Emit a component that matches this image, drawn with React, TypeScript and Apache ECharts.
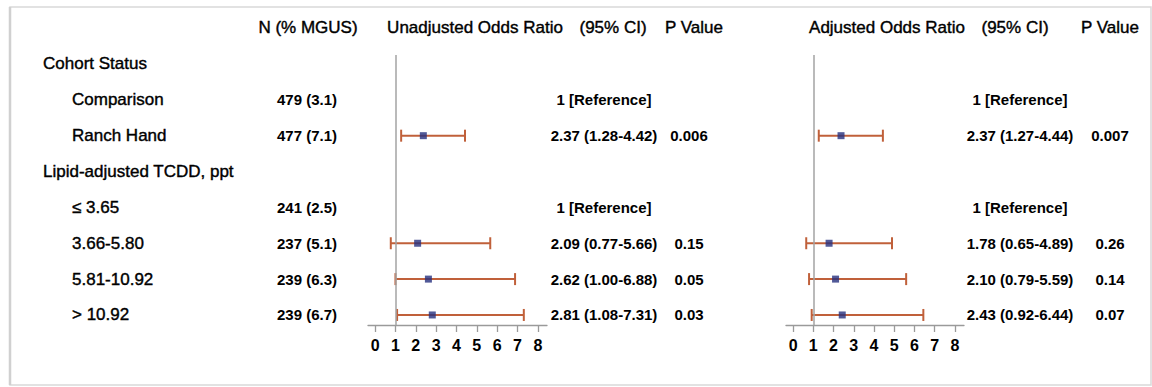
import React, { useEffect, useRef } from "react";
import * as echarts from "echarts";

// ---------- data ----------
const ROW_LABELS = [
  "Cohort Status",
  "Comparison",
  "Ranch Hand",
  "Lipid-adjusted TCDD, ppt",
  "≤ 3.65",
  "3.66-5.80",
  "5.81-10.92",
  "> 10.92",
];
const ROW_LEVEL = [0, 1, 1, 0, 1, 1, 1, 1];
const N_MGUS = ["", "479 (3.1)", "477 (7.1)", "", "241 (2.5)", "237 (5.1)", "239 (6.3)", "239 (6.7)"];
const REFERENCE_ROWS = [1, 4];

const UNADJ_OR = [null, null, 2.37, null, null, 2.09, 2.62, 2.81];
const UNADJ_LO = [null, null, 1.28, null, null, 0.77, 1.0, 1.08];
const UNADJ_HI = [null, null, 4.42, null, null, 5.66, 6.88, 7.31];
const UNADJ_P = ["", "", "0.006", "", "", "0.15", "0.05", "0.03"];

const ADJ_OR = [null, null, 2.37, null, null, 1.78, 2.1, 2.43];
const ADJ_LO = [null, null, 1.27, null, null, 0.65, 0.79, 0.92];
const ADJ_HI = [null, null, 4.44, null, null, 4.89, 5.59, 6.44];
const ADJ_P = ["", "", "0.007", "", "", "0.26", "0.14", "0.07"];

const TICKS = [0, 1, 2, 3, 4, 5, 6, 7, 8];

const HEADERS = [
  { text: "N (% MGUS)", x: 308 },
  { text: "Unadjusted Odds Ratio", x: 475 },
  { text: "(95% CI)", x: 613 },
  { text: "P Value", x: 694 },
  { text: "Adjusted Odds Ratio", x: 887 },
  { text: "(95% CI)", x: 1015 },
  { text: "P Value", x: 1110 },
];

// ---------- layout ----------
const FONT = 'Arial, "Liberation Sans", sans-serif';
const TEXT_COLOR = "#000000";
const BAR_COLOR = "#c0603a";
const MARK_COLOR = "#26307e";
const ROW_MIN = -0.25;
const ROW_MAX = 7.28;
const GRID_TOP = 55;
const GRID_H = 270;

function orText(i: number, or: (number | null)[], lo: (number | null)[], hi: (number | null)[]) {
  if (REFERENCE_ROWS.includes(i)) return "1 [Reference]";
  const v = or[i];
  if (v == null) return "";
  return `${v.toFixed(2)} (${(lo[i] as number).toFixed(2)}-${(hi[i] as number).toFixed(2)})`;
}

function textSeries(
  texts: string[],
  colX: number | ((i: number) => number),
  align: string,
  font: string,
  strokeW: number
) {
  const items: number[][] = [];
  const txt: string[] = [];
  texts.forEach((t, i) => {
    if (!t) return;
    items.push([typeof colX === "function" ? colX(i) : colX, i]);
    txt.push(t);
  });
  return {
    type: "custom",
    xAxisIndex: 0,
    yAxisIndex: 0,
    silent: true,
    data: items,
    renderItem: (params: any, api: any) => {
      const p = api.coord([api.value(0), api.value(1)]);
      return {
        type: "text",
        x: p[0],
        y: p[1],
        style: {
          text: txt[params.dataIndex],
          fill: TEXT_COLOR,
          stroke: strokeW > 0 ? TEXT_COLOR : undefined,
          lineWidth: strokeW,
          font,
          align,
          verticalAlign: "middle",
        },
      };
    },
  };
}

function ciSeries(axis: number, or: (number | null)[], lo: (number | null)[], hi: (number | null)[]) {
  const bars: number[][] = [];
  const pts: number[][] = [];
  or.forEach((v, i) => {
    if (v == null) return;
    bars.push([i, lo[i] as number, hi[i] as number]);
    pts.push([v, i]);
  });
  return [
    {
      type: "custom",
      xAxisIndex: axis,
      yAxisIndex: axis,
      silent: true,
      z: 3,
      data: bars,
      renderItem: (_params: any, api: any) => {
        const y = api.value(0);
        const a = api.coord([api.value(1), y]);
        const b = api.coord([api.value(2), y]);
        const h = 6;
        const st = { stroke: BAR_COLOR, lineWidth: 2 };
        return {
          type: "group",
          children: [
            { type: "line", shape: { x1: a[0], y1: a[1], x2: b[0], y2: b[1] }, style: st },
            { type: "line", shape: { x1: a[0], y1: a[1] - h, x2: a[0], y2: a[1] + h }, style: st },
            { type: "line", shape: { x1: b[0], y1: b[1] - h, x2: b[0], y2: b[1] + h }, style: st },
          ],
        };
      },
    },
    {
      type: "scatter",
      xAxisIndex: axis,
      yAxisIndex: axis,
      silent: true,
      z: 4,
      symbol: "rect",
      symbolSize: 7,
      itemStyle: { color: MARK_COLOR },
      data: pts,
      markLine: {
        silent: true,
        symbol: "none",
        label: { show: false },
        lineStyle: { color: "#a3a3a3", width: 1.5, type: "solid" },
        data: [{ xAxis: 1 }],
      },
    },
  ];
}

function plotXAxis(grid: number) {
  return {
    type: "value",
    gridIndex: grid,
    position: "bottom",
    min: -0.35,
    max: 8.45,
    splitLine: { show: false },
    axisLine: { show: true, onZero: false, lineStyle: { color: "#9a9a9a", width: 1.3 } },
    axisTick: { show: true, customValues: TICKS, length: 7, lineStyle: { color: "#9a9a9a", width: 1.3 } },
    axisLabel: {
      show: true,
      customValues: TICKS,
      margin: 12,
      color: TEXT_COLOR,
      fontSize: 16,
      fontWeight: "bold",
      fontFamily: FONT,
    },
  };
}

function plotYAxis(grid: number) {
  return { type: "value", gridIndex: grid, min: ROW_MIN, max: ROW_MAX, inverse: true, show: false };
}

export default function App() {
  const ref = useRef<HTMLDivElement>(null);
  useEffect(() => {
    if (!ref.current) return;
    const chart = echarts.init(ref.current, null, { renderer: "svg" });
    const bold = `bold 15px ${FONT}`;
    const normal = `17px ${FONT}`;
    const option: any = {
      animation: false,
      backgroundColor: "#ffffff",
      grid: [
        { left: 0, width: 1152, top: GRID_TOP, height: GRID_H },
        { left: 368, width: 179, top: GRID_TOP, height: GRID_H },
        { left: 786, width: 178, top: GRID_TOP, height: GRID_H },
      ],
      xAxis: [
        { type: "value", gridIndex: 0, min: 0, max: 1152, show: false },
        plotXAxis(1),
        plotXAxis(2),
      ],
      yAxis: [plotYAxis(0), plotYAxis(1), plotYAxis(2)],
      graphic: [
        {
          type: "rect",
          shape: { x: 10, y: 7, width: 1141, height: 378 },
          style: { fill: "none", stroke: "#d9d9d9", lineWidth: 1.5 },
          silent: true,
        },
        {
          type: "line",
          shape: { x1: 10, y1: 7, x2: 10, y2: 385 },
          style: { stroke: "#d0d0d0", lineWidth: 2.5 },
          silent: true,
        },
        ...HEADERS.map((h) => ({
          type: "text",
          x: h.x,
          y: 27,
          silent: true,
          style: {
            text: h.text,
            fill: TEXT_COLOR,
            stroke: TEXT_COLOR,
            lineWidth: 0.4,
            font: normal,
            align: "center",
            verticalAlign: "middle",
          },
        })),
      ],
      series: [
        textSeries(ROW_LABELS, (i) => (ROW_LEVEL[i] === 0 ? 43 : 72), "left", normal, 0.4),
        textSeries(N_MGUS, 307, "center", bold, 0),
        textSeries(ROW_LABELS.map((_, i) => orText(i, UNADJ_OR, UNADJ_LO, UNADJ_HI)), 604, "center", bold, 0),
        textSeries(UNADJ_P, 689, "center", bold, 0),
        textSeries(ROW_LABELS.map((_, i) => orText(i, ADJ_OR, ADJ_LO, ADJ_HI)), 1020, "center", bold, 0),
        textSeries(ADJ_P, 1110, "center", bold, 0),
        ...ciSeries(1, UNADJ_OR, UNADJ_LO, UNADJ_HI),
        ...ciSeries(2, ADJ_OR, ADJ_LO, ADJ_HI),
      ],
    };
    chart.setOption(option);
    return () => chart.dispose();
  }, []);
  return (
    <div
      ref={ref}
      style={{ position: "absolute", left: 0, top: 0, width: 1152, height: 387 }}
    />
  );
}
